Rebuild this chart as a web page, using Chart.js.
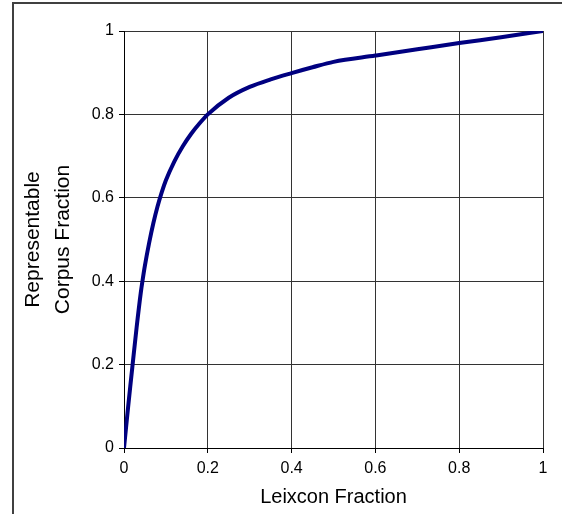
<!DOCTYPE html>
<html>
<head>
<meta charset="utf-8">
<script src="https://cdn.jsdelivr.net/npm/chart.js@4/dist/chart.umd.min.js"></script>
<style>
  html, body { margin: 0; padding: 0; background: #fff; }
  #wrap { position: relative; width: 562px; height: 514px; }
</style>
</head>
<body>
<div id="wrap"><canvas id="curva" width="562" height="514"></canvas></div>
<script>
// fracción del léxico vs fracción del corpus representable
const lexiconFraction = [0, 0.005, 0.01, 0.015, 0.02, 0.03, 0.04, 0.044, 0.05, 0.06, 0.07, 0.08, 0.09, 0.1,
  0.12, 0.14, 0.16, 0.18, 0.2, 0.25, 0.3, 0.35, 0.4, 0.45, 0.5, 0.6, 0.7, 0.8, 0.9, 1];
const corpusFraction = [0, 0.05, 0.1, 0.148, 0.195, 0.288, 0.372, 0.4, 0.438, 0.492, 0.539, 0.579, 0.613, 0.642,
  0.687, 0.723, 0.753, 0.778, 0.8, 0.84, 0.866, 0.884, 0.899, 0.913, 0.926, 0.941, 0.956, 0.971, 0.985, 1];
const xTicks = [0, 0.2, 0.4, 0.6, 0.8, 1];
const yTicks = [0, 0.2, 0.4, 0.6, 0.8, 1];

const frame = {
  id: 'frame',
  afterDraw(chart) {
    const ctx = chart.ctx;
    ctx.save();
    ctx.strokeStyle = '#404040';
    ctx.lineWidth = 2;
    ctx.beginPath();
    ctx.moveTo(13, 514);
    ctx.lineTo(13, 3);
    ctx.lineTo(562, 3);
    ctx.stroke();
    ctx.restore();
  }
};

const tickFont = { family: 'Liberation Sans, Arial, sans-serif', size: 16 };
const titleFont = { family: 'Liberation Sans, Arial, sans-serif', size: 20 };

new Chart(document.getElementById('curva'), {
  type: 'line',
  data: {
    datasets: [{
      data: lexiconFraction.map((x, i) => ({ x, y: corpusFraction[i] })),
      borderColor: '#000080',
      borderWidth: 4,
      pointRadius: 0,
      cubicInterpolationMode: 'monotone',
      fill: false
    }]
  },
  options: {
    responsive: false,
    animation: false,
    layout: { padding: { left: 0, top: 31, right: 19, bottom: 0 } },
    plugins: { legend: { display: false }, tooltip: { enabled: false } },
    scales: {
      x: {
        type: 'linear', min: 0, max: 1,
        afterBuildTicks: s => { s.ticks = xTicks.map(v => ({ value: v })); },
        afterFit: s => { s.height = 66; },
        ticks: { font: tickFont, color: '#000', padding: 6, maxRotation: 0, callback: v => String(v) },
        grid: { color: '#333', lineWidth: 1, tickLength: 5, tickColor: '#000' },
        border: { color: '#000', width: 1 },
        title: { display: true, text: 'Leixcon Fraction', font: titleFont, color: '#000', padding: { top: 0, bottom: 5 } }
      },
      y: {
        type: 'linear', min: 0, max: 1,
        afterBuildTicks: s => { s.ticks = yTicks.map(v => ({ value: v })); },
        afterFit: s => { s.width = 124; },
        ticks: { font: tickFont, color: '#000', padding: 5, callback: v => String(v) },
        grid: { color: '#333', lineWidth: 1, tickLength: 5, tickColor: '#000' },
        border: { color: '#000', width: 1 },
        title: {
          display: true, text: ['Representable', 'Corpus Fraction'],
          font: { family: 'Liberation Sans, Arial, sans-serif', size: 21, lineHeight: 1.45 },
          color: '#000', padding: { top: 18, bottom: 0 }
        }
      }
    }
  },
  plugins: [frame]
});
</script>
</body>
</html>
